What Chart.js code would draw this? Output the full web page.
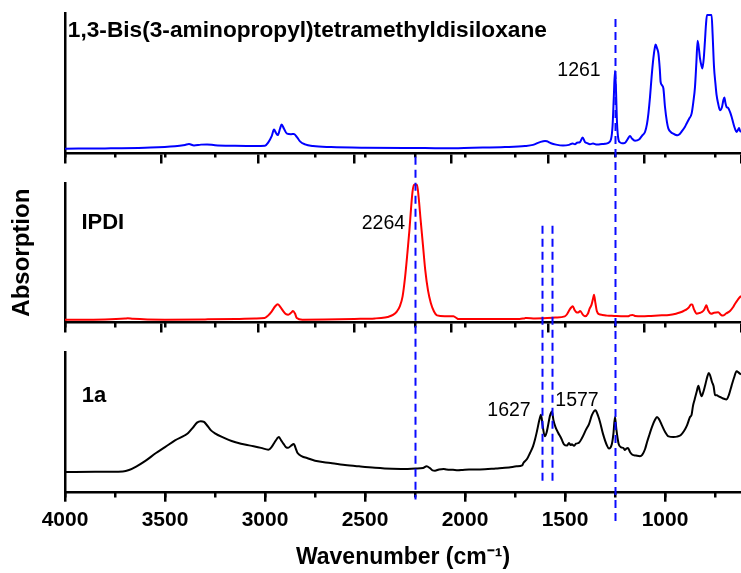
<!DOCTYPE html>
<html>
<head>
<meta charset="utf-8">
<script src="https://cdn.jsdelivr.net/npm/chart.js@4.4.1/dist/chart.umd.min.js"></script>
<style>
html, body { margin: 0; padding: 0; background: #ffffff; }
#wrap { position: relative; width: 741px; height: 573px; }
</style>
</head>
<body>
<div id="wrap"><canvas id="chart" width="741" height="573"></canvas></div>
<script>
// ---------- DATA ----------
const panelNames = ['1,3-Bis(3-aminopropyl)tetramethyldisiloxane', 'IPDI', '1a'];
const peakLabels = ['1261', '2264', '1627', '1577'];
const xTickValues = [4000, 3500, 3000, 2500, 2000, 1500, 1000];
const guideWavenumbers = [2250, 1617, 1564, 1249];

// 1,3-Bis(3-aminopropyl)tetramethyldisiloxane (blue)
const siloxaneWn = [4000,3800,3600,3450,3400,3380,3355,3320,3290,3250,3150,3050,3000,2985,2966,2955,2945,2936,2925,2917,2905,2890,2870,2855,2840,2825,2800,2760,2670,2500,2300,2200,2100,1960,1800,1700,1660,1625,1600,1590,1570,1545,1510,1480,1462,1450,1440,1425,1412,1400,1392,1375,1360,1340,1325,1300,1283,1270,1262,1256,1250,1245,1240,1233,1225,1215,1200,1185,1175,1165,1150,1130,1115,1100,1090,1083,1075,1067,1058,1050,1047,1040,1033,1026,1022,1015,1008,1000,990,983,970,958,945,937,925,917,900,892,880,867,858,850,843,837,830,825,818,813,806,800,795,790,767,762,755,748,742,735,725,715,708,703,698,692,685,675,667,658,650,642,636,630,625,620];
const siloxaneAbs = [3.3,3.5,4.0,5.0,6.0,6.6,5.6,6.2,6.3,5.8,5.4,5.2,5.4,7.5,12.5,16.9,14.5,13.0,17.5,20.5,17.5,14.0,13.6,13.8,11.5,8.5,6.4,5.2,4.5,4.0,3.8,3.8,3.6,4.0,4.5,5.2,6.0,8.0,8.8,8.6,7.2,6.2,5.5,6.0,7.0,6.5,7.5,8.0,11.2,8.0,7.5,6.5,7.0,6.2,6.5,6.8,7.5,10.0,20.0,40.0,58.8,45.0,22.0,10.0,7.8,7.2,7.5,10.5,12.4,10.5,9.0,9.8,12.5,15.2,21.0,28.3,40.0,54.5,68.0,76.0,77.6,75.0,71.2,60.0,51.0,48.5,46.2,33.0,22.0,17.6,15.0,14.0,13.0,12.9,14.0,15.5,19.0,21.2,24.5,28.3,37.0,47.4,65.0,80.2,74.0,67.6,62.5,60.5,68.0,80.7,92.0,98.6,98.6,85.0,61.7,50.0,41.4,36.0,30.7,33.0,38.0,39.8,36.0,33.0,32.5,29.5,26.0,21.2,17.5,15.2,16.5,18.0,16.0,15.2];

// IPDI (red)
const ipdiWn = [4000,3800,3700,3687,3660,3500,3300,3145,3050,3002,2985,2966,2950,2936,2920,2908,2895,2884,2870,2860,2850,2841,2813,2700,2553,2450,2400,2387,2360,2340,2325,2312,2300,2288,2278,2269,2262,2255,2240,2232,2222,2210,2199,2185,2171,2155,2140,2100,2058,2040,2034,1900,1727,1700,1692,1650,1609,1550,1501,1490,1477,1468,1461,1452,1443,1434,1424,1410,1400,1385,1377,1368,1360,1355,1348,1341,1330,1313,1290,1254,1220,1185,1175,1163,1150,1114,1070,1016,980,945,930,922,905,894,880,870,864,855,841,830,818,805,797,793,785,769,755,734,720,711,695,675,660,652,640,630,622,620];
const ipdiAbs = [2.1,2.3,2.9,3.1,2.7,2.1,2.3,2.6,3.0,3.3,5.0,8.1,11.5,13.1,10.5,8.1,6.0,5.7,7.0,8.3,6.5,3.3,2.1,2.2,2.6,3.0,3.6,4.0,5.5,8.1,12.0,18.8,32.0,49.8,66.0,83.1,94.0,98.6,98.6,90.0,73.6,55.0,37.9,23.0,14.1,8.0,5.2,4.6,4.5,3.0,2.6,2.6,2.6,3.2,3.3,3.0,3.1,3.6,4.5,6.0,9.3,11.0,11.7,9.0,7.4,7.2,8.3,5.5,4.5,6.5,10.0,12.5,17.0,20.0,14.0,8.3,6.0,5.5,5.0,4.8,4.6,4.5,5.2,5.5,4.8,4.5,4.8,5.2,5.5,6.4,7.0,7.4,8.5,9.3,11.0,12.9,12.9,9.5,6.4,6.8,7.4,9.0,11.5,12.4,9.0,6.4,7.0,7.4,5.5,5.0,6.5,8.3,11.0,12.9,15.5,17.5,18.8,19.2];

// 1a (black)
const compoundWn = [4000,3850,3711,3680,3640,3600,3545,3500,3450,3400,3384,3360,3340,3321,3305,3292,3270,3250,3210,3167,3120,3073,3020,2983,2965,2954,2940,2931,2920,2908,2895,2884,2870,2856,2845,2837,2815,2790,2750,2672,2600,2530,2450,2365,2300,2247,2210,2192,2175,2162,2150,2130,2107,2092,2060,2035,2012,1980,1925,1846,1780,1742,1714,1708,1690,1675,1660,1650,1640,1628,1620,1612,1601,1592,1584,1575,1565,1558,1548,1535,1518,1505,1490,1480,1472,1466,1455,1445,1431,1415,1395,1380,1365,1348,1335,1325,1310,1290,1280,1266,1258,1250,1243,1232,1220,1208,1200,1193,1185,1175,1163,1145,1125,1114,1100,1090,1078,1065,1050,1040,1030,1017,1000,982,958,940,922,905,890,875,867,860,852,840,833,825,817,808,797,788,781,775,765,757,750,740,734,720,705,692,680,667,655,642,630,620];
const compoundAbs = [14.8,14.9,15.2,16.2,19.0,22.5,28.3,32.5,37.4,41.0,42.6,46.5,50.0,51.0,50.5,48.5,44.5,42.4,39.5,36.9,35.0,33.6,32.0,30.7,33.0,35.5,38.5,39.8,37.5,35.0,32.5,32.0,33.5,34.7,31.0,28.3,26.0,24.8,22.8,21.2,19.8,18.8,17.8,17.1,17.0,17.3,17.6,18.8,17.5,15.9,15.7,16.6,17.0,16.6,16.3,16.0,16.2,16.5,16.6,17.3,18.0,18.8,19.5,21.2,24.0,28.3,33.0,37.9,44.0,52.0,55.7,48.0,40.2,43.0,48.5,55.0,58.0,52.0,47.0,43.0,38.5,34.5,33.6,35.5,34.0,34.5,33.5,35.0,35.5,39.0,45.0,49.0,55.5,58.8,55.0,50.5,42.0,33.6,31.5,34.5,42.0,54.0,45.0,35.0,32.5,31.9,30.5,31.5,31.9,29.0,27.1,26.5,26.0,27.0,31.0,36.0,41.4,47.0,52.0,54.0,52.5,48.6,43.5,40.2,39.8,40.0,41.0,44.0,48.0,54.0,55.7,62.0,66.4,73.0,76.4,72.0,68.8,72.0,78.0,83.0,85.5,84.0,79.0,76.0,69.8,69.5,69.0,68.0,67.0,66.6,70.0,76.4,82.0,86.7,85.5,84.3];

// ---------- CHART ----------
const FONT = '"Liberation Sans", Arial, Helvetica, sans-serif';
const WN_MIN = 620, WN_MAX = 4000;

function toPoints(wn, vals) { return wn.map((w, i) => ({ x: w, y: vals[i] })); }

function panelY(weight, extra) {
  return Object.assign({
    type: 'linear', axis: 'y', position: 'left', stack: 'panels', stackWeight: weight,
    min: 0, max: 100,
    ticks: { display: false },
    grid: { display: true, drawOnChartArea: false, drawTicks: false, lineWidth: 2.5, color: '#000' },
    border: { display: true, color: '#000', width: 2.5 },
    afterFit: (s) => { s.width = 65; }
  }, extra || {});
}
function gapY(weight) {
  return {
    type: 'linear', axis: 'y', position: 'left', stack: 'panels', stackWeight: weight,
    min: 0, max: 1,
    ticks: { display: false },
    grid: { display: false },
    border: { display: false },
    afterFit: (s) => { s.width = 65; }
  };
}
function panelX(position, step, tickLen, withBorder) {
  return {
    type: 'linear', axis: 'x', position: position, reverse: true, min: WN_MIN, max: WN_MAX,
    ticks: { display: false, stepSize: step, includeBounds: false },
    grid: { display: true, drawOnChartArea: false, drawTicks: true, tickLength: tickLen,
            lineWidth: 2.5, tickWidth: 2.5, tickColor: '#000', color: '#000' },
    border: { display: withBorder, color: '#000', width: 2.5 }
  };
}

const guidePlugin = {
  id: 'guides',
  afterDatasetsDraw(chart) {
    const { ctx, scales } = chart;
    // vertical extent of each dashed guide, expressed in panel-axis values
    const spans = [
      ['yTop', -2.5, 'yBot', -4.8],
      ['yMid', 69.3, 'yBot', 7.3],
      ['yMid', 69.3, 'yBot', 7.3],
      ['yTop', 95.7, 'yBot', -22.6]
    ];
    ctx.save();
    ctx.strokeStyle = '#0a0aff';
    ctx.lineWidth = 2;
    ctx.setLineDash([8, 5]);
    guideWavenumbers.forEach((wn, i) => {
      const s = spans[i];
      const x = Math.round(scales.x.getPixelForValue(wn)) + 0.5;
      ctx.beginPath();
      ctx.moveTo(x, scales[s[0]].getPixelForValue(s[1]));
      ctx.lineTo(x, scales[s[2]].getPixelForValue(s[3]));
      ctx.stroke();
    });
    ctx.restore();
  }
};

const labelPlugin = {
  id: 'labels',
  afterDraw(chart) {
    const { ctx, scales } = chart;
    ctx.save();
    ctx.fillStyle = '#000';
    ctx.textBaseline = 'alphabetic';
    const x = (wn) => scales.x.getPixelForValue(wn);
    // panel names
    ctx.textAlign = 'left';
    ctx.font = 'bold 22.7px ' + FONT;
    ctx.fillText(panelNames[0], x(3986), scales.yTop.getPixelForValue(82.7));
    ctx.font = 'bold 22px ' + FONT;
    ctx.fillText(panelNames[1], x(3918), scales.yMid.getPixelForValue(67.1));
    ctx.fillText(panelNames[2], x(3916), scales.yBot.getPixelForValue(64.4));
    // peak positions
    ctx.textAlign = 'center';
    ctx.font = '19.5px ' + FONT;
    ctx.fillText(peakLabels[0], x(1430), scales.yTop.getPixelForValue(55.2));
    ctx.fillText(peakLabels[1], x(2408), scales.yMid.getPixelForValue(67.1));
    ctx.fillText(peakLabels[2], x(1780), scales.yBot.getPixelForValue(54.6));
    ctx.fillText(peakLabels[3], x(1440), scales.yBot.getPixelForValue(62.2));
    ctx.restore();
  }
};

function spectrum(label, wn, vals, color, yAxisID) {
  return {
    label: label,
    data: toPoints(wn, vals),
    xAxisID: 'x',
    yAxisID: yAxisID,
    borderColor: color,
    backgroundColor: color,
    borderWidth: 2,
    pointRadius: 0,
    fill: false,
    cubicInterpolationMode: 'monotone'
  };
}

// left-stacked axes are laid out bottom-up, so the bottom panel is listed first
new Chart(document.getElementById('chart'), {
  type: 'line',
  data: {
    datasets: [
      spectrum(panelNames[0], siloxaneWn, siloxaneAbs, '#0000ff', 'yTop'),
      spectrum(panelNames[1], ipdiWn, ipdiAbs, '#ff0000', 'yMid'),
      spectrum(panelNames[2], compoundWn, compoundAbs, '#000000', 'yBot')
    ]
  },
  options: {
    responsive: false,
    animation: false,
    devicePixelRatio: 1,
    layout: { padding: { top: 13, left: 0, right: 0, bottom: 0 } },
    plugins: { legend: { display: false }, tooltip: { enabled: false } },
    scales: {
      yBot: panelY(140.3),
      gap2: gapY(30),
      yMid: panelY(140, {
        title: { display: true, text: 'Absorption', color: '#000',
                 font: { family: FONT, size: 24, weight: 'bold' }, padding: { top: 7.6, bottom: 0 } }
      }),
      gap1: gapY(29.5),
      yTop: panelY(140.5),
      x: {
        type: 'linear', axis: 'x', position: 'bottom', reverse: true, min: WN_MIN, max: WN_MAX,
        afterBuildTicks: (s) => { s.ticks = xTickValues.map(v => ({ value: v })); },
        ticks: { display: true, stepSize: 500, includeBounds: false, autoSkip: false, maxRotation: 0,
                 callback: (v) => String(v),
                 color: '#000', padding: 5.9, font: { family: FONT, size: 21, weight: 'bold' } },
        grid: { display: true, drawOnChartArea: false, drawTicks: true, tickLength: 9,
                lineWidth: 2.5, tickWidth: 2.5, tickColor: '#000', color: '#000' },
        border: { display: true, color: '#000', width: 2.5 },
        title: { display: true, text: 'Wavenumber (cm\u207B\u00B9)', color: '#000',
                 font: { family: FONT, size: 23, weight: 'bold' }, padding: { top: 5.5, bottom: 1.2 } }
      },
      xBotMinor: panelX({ yBot: 0 }, 250, 4.5, false),
      xTop: panelX({ yTop: 0 }, 500, 9, true),
      xTopMinor: panelX({ yTop: 0 }, 250, 4.5, false),
      xMid: panelX({ yMid: 0 }, 500, 9, true),
      xMidMinor: panelX({ yMid: 0 }, 250, 4.5, false)
    }
  },
  plugins: [guidePlugin, labelPlugin]
});
</script>
</body>
</html>
